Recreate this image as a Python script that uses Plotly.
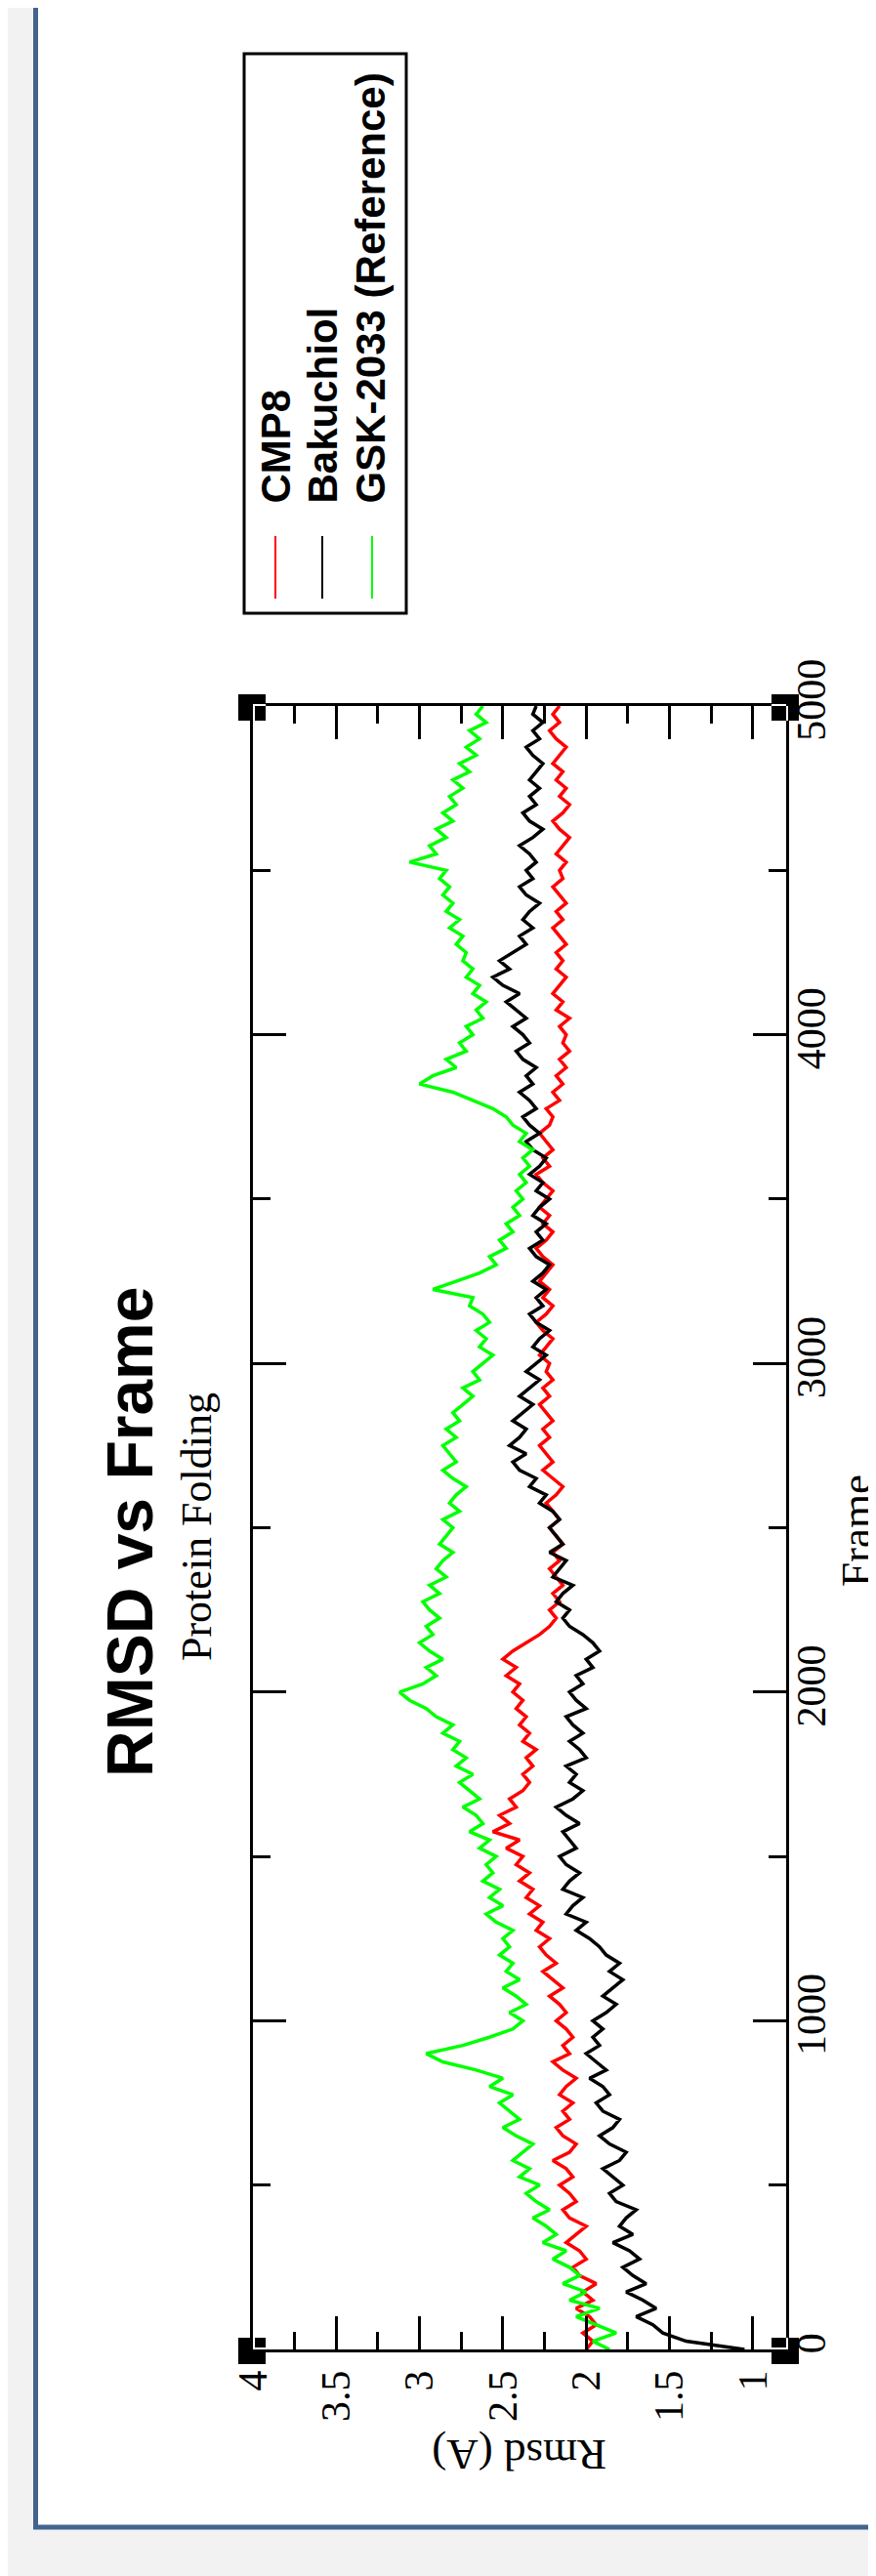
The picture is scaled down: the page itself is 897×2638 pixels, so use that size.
import plotly.graph_objects as go

# ---------------- data (every 25 frames) ----------------
frames = list(range(0, 5001, 25))

cmp8 = [
    2.00, 1.96, 2.02, 1.94, 1.98, 2.06, 1.96, 2.02, 1.94, 2.04,
    2.08, 2.00, 2.04, 2.12, 2.06, 2.00, 2.10, 2.14, 2.06, 2.10,
    2.16, 2.08, 2.12, 2.20, 2.10, 2.06, 2.14, 2.18, 2.10, 2.14,
    2.08, 2.16, 2.12, 2.06, 2.14, 2.20, 2.10, 2.14, 2.08, 2.12,
    2.18, 2.12, 2.16, 2.22, 2.14, 2.20, 2.26, 2.18, 2.24, 2.28,
    2.22, 2.30, 2.26, 2.34, 2.28, 2.36, 2.32, 2.40, 2.34, 2.42,
    2.38, 2.48, 2.40, 2.56, 2.46, 2.52, 2.42, 2.46, 2.38, 2.34,
    2.38, 2.32, 2.36, 2.30, 2.38, 2.34, 2.40, 2.36, 2.42, 2.38,
    2.44, 2.40, 2.48, 2.42, 2.50, 2.44, 2.36, 2.28, 2.22, 2.18,
    2.22, 2.16, 2.20, 2.14, 2.18, 2.22, 2.16, 2.20, 2.14, 2.18,
    2.22, 2.16, 2.20, 2.24, 2.18, 2.14, 2.20, 2.26, 2.20, 2.24,
    2.28, 2.22, 2.26, 2.20, 2.24, 2.28, 2.22, 2.26, 2.20, 2.24,
    2.22, 2.28, 2.24, 2.20, 2.26, 2.30, 2.24, 2.20, 2.26, 2.22,
    2.28, 2.24, 2.20, 2.26, 2.30, 2.24, 2.20, 2.26, 2.22, 2.28,
    2.24, 2.20, 2.26, 2.30, 2.22, 2.26, 2.20, 2.24, 2.28, 2.22,
    2.20, 2.24, 2.16, 2.20, 2.14, 2.18, 2.12, 2.16, 2.10, 2.14,
    2.12, 2.16, 2.10, 2.18, 2.14, 2.20, 2.16, 2.12, 2.18, 2.14,
    2.18, 2.12, 2.16, 2.20, 2.14, 2.18, 2.12, 2.16, 2.20, 2.14,
    2.16, 2.12, 2.18, 2.14, 2.10, 2.16, 2.20, 2.14, 2.10, 2.16,
    2.12, 2.18, 2.14, 2.20, 2.16, 2.12, 2.18, 2.22, 2.16, 2.20,
    2.16,
]

bakuchiol = [
    1.05, 1.40, 1.54, 1.60, 1.70, 1.58, 1.66, 1.76, 1.64, 1.72,
    1.78, 1.68, 1.74, 1.84, 1.72, 1.80, 1.76, 1.70, 1.82, 1.86,
    1.78, 1.84, 1.90, 1.80, 1.76, 1.86, 1.92, 1.84, 1.80, 1.90,
    1.94, 1.86, 1.90, 1.98, 1.88, 1.94, 2.00, 1.92, 1.96, 1.90,
    1.96, 1.88, 1.82, 1.90, 1.84, 1.78, 1.86, 1.80, 1.88, 1.92,
    1.98, 2.06, 2.00, 2.12, 2.08, 2.02, 2.14, 2.10, 2.04, 2.12,
    2.16, 2.06, 2.10, 2.14, 2.04, 2.12, 2.18, 2.08, 2.02, 2.10,
    2.06, 2.12, 2.00, 2.04, 2.10, 2.02, 2.08, 2.12, 2.00, 2.06,
    2.10, 2.02, 2.06, 1.96, 2.00, 1.92, 1.96, 2.02, 2.10, 2.14,
    2.10, 2.18, 2.14, 2.08, 2.20, 2.16, 2.12, 2.22, 2.14, 2.18,
    2.22, 2.16, 2.20, 2.28, 2.24, 2.34, 2.30, 2.40, 2.44, 2.36,
    2.46, 2.40, 2.36, 2.44, 2.38, 2.32, 2.40, 2.34, 2.28, 2.36,
    2.30, 2.24, 2.32, 2.28, 2.22, 2.30, 2.34, 2.26, 2.30, 2.24,
    2.32, 2.26, 2.22, 2.30, 2.34, 2.26, 2.30, 2.24, 2.32, 2.28,
    2.22, 2.30, 2.26, 2.34, 2.28, 2.24, 2.32, 2.36, 2.28, 2.34,
    2.38, 2.30, 2.34, 2.40, 2.32, 2.36, 2.30, 2.38, 2.42, 2.34,
    2.38, 2.44, 2.36, 2.42, 2.48, 2.40, 2.50, 2.56, 2.46, 2.52,
    2.44, 2.36, 2.40, 2.32, 2.38, 2.34, 2.28, 2.36, 2.40, 2.32,
    2.36, 2.30, 2.34, 2.40, 2.32, 2.26, 2.34, 2.38, 2.30, 2.34,
    2.28, 2.34, 2.30, 2.26, 2.32, 2.36, 2.28, 2.32, 2.26, 2.32,
    2.30,
]

gsk2033 = [
    1.86, 1.96, 1.82, 1.94, 2.06, 1.92, 2.10, 2.00, 2.14, 2.04,
    2.10, 2.20, 2.12, 2.26, 2.18, 2.24, 2.32, 2.22, 2.30, 2.36,
    2.28, 2.40, 2.34, 2.44, 2.38, 2.32, 2.42, 2.50, 2.40, 2.46,
    2.52, 2.44, 2.58, 2.50, 2.66, 2.86, 2.96, 2.74, 2.58, 2.44,
    2.38, 2.46, 2.36, 2.42, 2.50, 2.40, 2.48, 2.44, 2.52, 2.46,
    2.50, 2.44, 2.54, 2.60, 2.50, 2.58, 2.52, 2.62, 2.56, 2.60,
    2.54, 2.64, 2.58, 2.70, 2.62, 2.66, 2.74, 2.64, 2.70, 2.76,
    2.68, 2.78, 2.72, 2.80, 2.76, 2.86, 2.80, 2.90, 2.96, 3.06,
    3.12, 2.98, 2.90, 2.96, 2.86, 2.94, 3.00, 2.92, 2.96, 2.88,
    2.94, 2.98, 2.88, 2.94, 2.84, 2.90, 2.86, 2.80, 2.88, 2.84,
    2.80, 2.86, 2.76, 2.82, 2.78, 2.72, 2.80, 2.86, 2.78, 2.82,
    2.86, 2.78, 2.84, 2.76, 2.80, 2.74, 2.68, 2.74, 2.64, 2.68,
    2.62, 2.56, 2.64, 2.60, 2.66, 2.58, 2.62, 2.70, 2.68, 2.92,
    2.78, 2.64, 2.54, 2.58, 2.48, 2.52, 2.44, 2.48, 2.40, 2.44,
    2.38, 2.42, 2.36, 2.40, 2.34, 2.38, 2.32, 2.40, 2.36, 2.44,
    2.48, 2.56, 2.68, 2.80, 3.00, 2.92, 2.78, 2.84, 2.72, 2.76,
    2.68, 2.72, 2.62, 2.66, 2.60, 2.68, 2.64, 2.72, 2.68, 2.74,
    2.72, 2.78, 2.74, 2.82, 2.76, 2.84, 2.80, 2.86, 2.82, 2.88,
    2.84, 3.06, 2.90, 2.94, 2.84, 2.90, 2.80, 2.86, 2.78, 2.82,
    2.74, 2.80, 2.70, 2.76, 2.66, 2.72, 2.64, 2.70, 2.60, 2.66,
    2.62,
]

series_names = ["CMP8", "Bakuchiol", "GSK-2033 (Reference)"]
series_values = [cmp8, bakuchiol, gsk2033]
series_colors = ["#ff0000", "#000000", "#00ff00"]

rmsd_tickvals = [1, 1.5, 2, 2.5, 3, 3.5, 4]
rmsd_ticktext = ["1", "1.5", "2", "2.5", "3", "3.5", "4"]
rmsd_minor = [1.25, 1.75, 2.25, 2.75, 3.25, 3.75]
frame_tickvals = [0, 1000, 2000, 3000, 4000, 5000]
frame_ticktext = ["0", "1000", "2000", "3000", "4000", "5000"]
frame_minor = [500, 1500, 2500, 3500, 4500]

title_text = "RMSD vs Frame"
subtitle_text = "Protein Folding"
x_title = "Frame"
y_title = "Rmsd (A)"

# ---------------- geometry (pixels) ----------------
W, H = 897, 2638
PL, PR, PT, PB = 251, 797, 715, 2398
PW, PH = PR - PL, PB - PT


def px(x):
    return (x - PL) / PW


def py(y):
    return (PB - y) / PH


SERIF = "Liberation Serif, Times New Roman, serif"
SANS = "Liberation Sans, Arial, sans-serif"

fig = go.Figure()
for name, vals, col in zip(series_names, series_values, series_colors):
    fig.add_trace(go.Scatter(x=vals, y=frames, mode="lines", name=name,
                             line=dict(color=col, width=3.5), hoverinfo="skip"))

axis_common = dict(
    ticks="inside", ticklen=34, tickwidth=2.5, tickcolor="black",
    showline=True, linewidth=2.5, linecolor="black", mirror="ticks",
    showgrid=False, zeroline=False, tickangle=-90,
    tickfont=dict(family=SERIF, size=42, color="black"),
)

fig.update_xaxes(range=[4, 0.8], tickmode="array", tickvals=rmsd_tickvals,
                 ticktext=rmsd_ticktext, ticklabelstandoff=2,
                 minor=dict(ticks="inside", ticklen=18, tickwidth=2.5,
                            tickcolor="black", tickmode="array",
                            tickvals=rmsd_minor, showgrid=False),
                 **axis_common)
fig.update_yaxes(range=[0, 5000], side="right", tickmode="array",
                 tickvals=frame_tickvals, ticktext=frame_ticktext,
                 ticklabelstandoff=-13,
                 minor=dict(ticks="inside", ticklen=18, tickwidth=2.5,
                            tickcolor="black", tickmode="array",
                            tickvals=frame_minor, showgrid=False),
                 **axis_common)

shapes = []
# white panel with blue border
shapes.append(dict(type="rect", xref="paper", yref="paper", layer="below",
                   x0=px(28.5), x1=px(910), y0=py(2580), y1=py(-20),
                   fillcolor="white", line=dict(color="#44648f", width=5)))

# corner handles (black squares with white frame segments)
for cx, cy in [(PL, PB), (PR, PB), (PR, PT), (PL, PT)]:
    shapes.append(dict(type="rect", xref="paper", yref="paper", layer="above",
                       x0=px(cx - 15), x1=px(cx + 13), y0=py(cy + 15), y1=py(cy - 12),
                       fillcolor="black", line=dict(width=0)))
    ix = cx + 13 if cx == PL else cx - 15
    iy = cy - 12 if cy == PB else cy + 15
    shapes.append(dict(type="line", xref="paper", yref="paper", layer="above",
                       x0=px(cx + 1), x1=px(cx + 1), y0=py(cy), y1=py(iy),
                       line=dict(color="white", width=2)))
    shapes.append(dict(type="line", xref="paper", yref="paper", layer="above",
                       x0=px(cx), x1=px(ix), y0=py(cy - 1), y1=py(cy - 1),
                       line=dict(color="white", width=2)))

# legend box
shapes.append(dict(type="rect", xref="paper", yref="paper", layer="above",
                   x0=px(242), x1=px(408), y0=py(620), y1=py(47),
                   fillcolor="white", line=dict(color="black", width=3)))
legend_x = [274, 322, 373]
for lx, col in zip(legend_x, series_colors):
    shapes.append(dict(type="line", xref="paper", yref="paper", layer="above",
                       x0=px(lx), x1=px(lx), y0=py(605), y1=py(541),
                       line=dict(color=col, width=2)))

annotations = []
legend_tx = [274, 322, 371]
for lx, name in zip(legend_tx, series_names):
    annotations.append(dict(text="<b>%s</b>" % name, xref="paper", yref="paper",
                            x=px(lx), y=py(510), xanchor="center", yanchor="bottom",
                            textangle=-90, showarrow=False,
                            font=dict(family=SANS, size=42, color="black")))

annotations.append(dict(text="<b>%s</b>" % title_text, xref="paper", yref="paper",
                        x=px(125), y=py(1561), xanchor="center", yanchor="middle",
                        textangle=-90, showarrow=False,
                        font=dict(family=SANS, size=66, color="black")))
annotations.append(dict(text=subtitle_text, xref="paper", yref="paper",
                        x=px(193), y=py(1556), xanchor="center", yanchor="middle",
                        textangle=-90, showarrow=False,
                        font=dict(family=SERIF, size=44, color="black")))
annotations.append(dict(text=x_title, xref="paper", yref="paper",
                        x=px(896), y=py(1560), xanchor="right", yanchor="middle",
                        textangle=-90, showarrow=False,
                        font=dict(family=SERIF, size=45, color="black")))
annotations.append(dict(text=y_title, xref="paper", yref="paper",
                        x=px(524), y=py(2506), xanchor="center", yanchor="middle",
                        textangle=180, showarrow=False,
                        font=dict(family=SERIF, size=45, color="black")))

fig.update_layout(width=W, height=H, autosize=False,
                  margin=dict(l=PL, r=W - PR, t=PT, b=H - PB, pad=0),
                  paper_bgcolor="#f2f2f2", plot_bgcolor="white",
                  showlegend=False, shapes=shapes, annotations=annotations)

fig.write_html("out.html")
